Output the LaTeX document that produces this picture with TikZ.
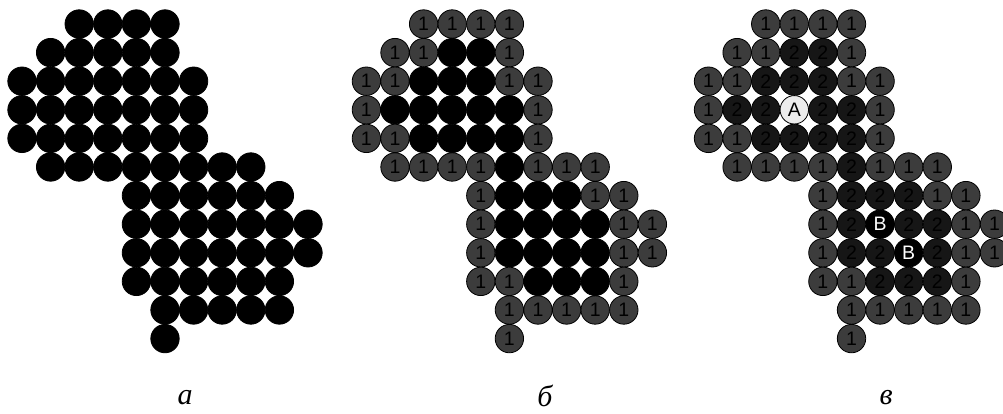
\documentclass[tikz,border=0pt]{standalone}
\usepackage{fontspec}
\setmainfont{Liberation Serif}
\newfontfamily\cellfont{Liberation Sans}
\usepackage{tikz}
\usetikzlibrary{positioning}
\definecolor{ringone}{RGB}{60,60,60}
\definecolor{ringtwo}{RGB}{22,22,22}
\definecolor{centreA}{RGB}{236,236,236}

\tikzset{
  ball/.style={circle, draw=black, line width=0.8pt, minimum size=28.4pt, inner sep=0pt,
    font=\cellfont\fontsize{19.5}{19.5}\selectfont},
  % panel b
  pb1/.style={fill=ringone, node contents=1},
  pb2/.style={fill=black, node contents={}},
  pbA/.style={pb2}, pbB/.style={pb2},
  % panel c
  pc1/.style={fill=ringone, node contents=1},
  pc2/.style={fill=ringtwo, node contents=2},
  pcA/.style={fill=centreA, node contents=A},
  pcB/.style={fill=black, text=white, node contents=B},
  caption/.style={inner sep=0pt, font=\itshape\fontsize{30}{30}\selectfont}
}

\begin{document}
\begin{tikzpicture}[x=1pt, y=-1pt]
  \useasboundingbox (0,0) rectangle (1003,414);
  \clip (0,0) rectangle (1003,414);
  \foreach \r/\cells in {0/{2/1,3/1,4/1,5/1},
      1/{1/1,2/1,3/2,4/2,5/1},
      2/{0/1,1/1,2/2,3/2,4/2,5/1,6/1},
      3/{0/1,1/2,2/2,3/A,4/2,5/2,6/1},
      4/{0/1,1/1,2/2,3/2,4/2,5/2,6/1},
      5/{1/1,2/1,3/1,4/1,5/2,6/1,7/1,8/1},
      6/{4/1,5/2,6/2,7/2,8/1,9/1},
      7/{4/1,5/2,6/B,7/2,8/2,9/1,10/1},
      8/{4/1,5/2,6/2,7/B,8/2,9/1,10/1},
      9/{4/1,5/1,6/2,7/2,8/2,9/1},
      10/{5/1,6/1,7/1,8/1,9/1},
      11/{5/1}} {
    \foreach \c/\k in \cells {
      \node (a-\r-\c) at ({22+28.6*\c},{24+28.6*\r}) [ball, fill=black] {};
      \node (b-\r-\c) at ({366.4+28.6*\c},{24+28.6*\r}) [ball, pb\k];
      \node (c-\r-\c) at ({708.5+28.6*\c},{24+28.6*\r}) [ball, pc\k];
    }
  }
  \node[caption] (cap-a) at (185,398) {а};
  \node[caption] (cap-b) at (545,396) {б};
  \node[caption] (cap-c) at (886,398) {в};
\end{tikzpicture}
\end{document}
